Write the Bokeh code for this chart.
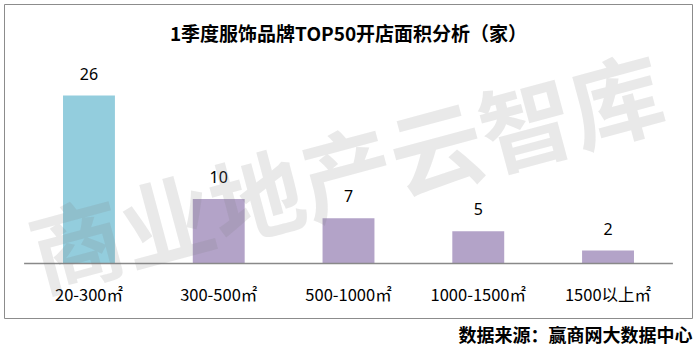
from bokeh.plotting import figure
from bokeh.models import FactorRange, Range1d, Label, ColumnDataSource, Title
from bokeh.core.properties import value
from bokeh.embed import file_html
from bokeh.resources import INLINE

title_text = "1季度服饰品牌TOP50开店面积分析（家）"
source_text = "数据来源：赢商网大数据中心"
watermark_text = "商业地产云智库"
categories = ["20-300㎡", "300-500㎡", "500-1000㎡", "1000-1500㎡", "1500以上㎡"]
counts = [26, 10, 7, 5, 2]
bar_colors = ["#93CDDD", "#B3A3C8", "#B3A3C8", "#B3A3C8", "#B3A3C8"]

src = ColumnDataSource(dict(cat=categories, cnt=counts, col=bar_colors,
                            lbl=[str(c) for c in counts], zero=[0] * len(counts)))

p = figure(width=697, height=352, output_backend="svg", toolbar_location=None,
           x_range=FactorRange(factors=categories, range_padding=0.151,
                               range_padding_units="absolute"),
           y_range=Range1d(-8.51, 40.09),
           x_axis_location=None, y_axis_location=None,
           min_border_left=4, min_border_right=5, min_border_top=4, min_border_bottom=34)
p.outline_line_color = "#8c8c8c"
p.outline_line_width = 1
p.background_fill_color = "white"
p.border_fill_color = "white"
p.xgrid.visible = False
p.ygrid.visible = False

p.vbar(x="cat", top="cnt", width=0.4, color="col", source=src, line_color=None)

# baseline axis line spanning the category band
p.segment(x0=[(categories[0], -0.5)], x1=[(categories[-1], 0.5)], y0=[0], y1=[0],
          line_color="#898989", line_width=1.5)

# value labels
p.text(x="cat", y="cnt", text="lbl", source=src, text_align="center",
       text_baseline="middle", y_offset=-22, text_font_size="16px",
       text_font=value("Noto Sans"), text_color="#000000")

# category labels
p.text(x="cat", y="zero", text="cat", source=src, text_align="center",
       text_baseline="middle", y_offset=30, text_font_size="16.5px",
       text_font=value("Noto Sans CJK SC"), text_color="#000000")

# title
p.add_layout(Label(x=344, y=286, x_units="screen", y_units="screen", text=title_text,
                   text_align="center", text_baseline="middle", text_font_size="19px",
                   text_font_style="bold", text_font="Noto Sans CJK SC", text_color="#000000"))

# watermark
p.add_layout(Label(x=341, y=150, x_units="screen", y_units="screen", text=watermark_text,
                   text_align="center", text_baseline="middle", text_font_size="93px",
                   text_font="Noto Sans CJK SC", text_font_style="bold",
                   text_color="#7f7f7f", text_alpha=0.17,
                   angle=15, angle_units="deg"))

# source note
p.add_layout(Title(text=source_text, align="right", text_font_size="18px",
                   text_font_style="bold", text_font="Noto Sans CJK SC",
                   text_color="#000000", standoff=0, offset=0), "below")

open("out.html", "w").write(file_html(p, INLINE))
